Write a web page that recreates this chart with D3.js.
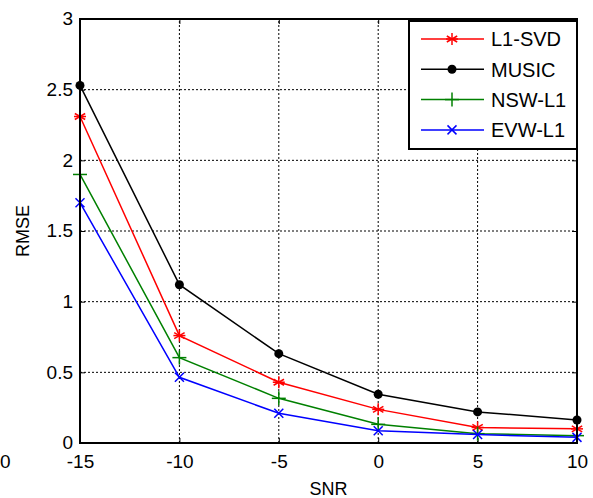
<!DOCTYPE html>
<html>
<head>
<meta charset="utf-8">
<script src="https://cdn.jsdelivr.net/npm/d3@7"></script>
<style>
  body { margin: 0; background: #fff; }
  svg { display: block; font-family: "Liberation Sans", Arial, sans-serif; }
</style>
</head>
<body>
<div id="chart"></div>
<script>
// data
const snr = [-15, -10, -5, 0, 5, 10];
const l1svd = [2.31, 0.76, 0.43, 0.238, 0.11, 0.10];
const music = [2.53, 1.12, 0.632, 0.345, 0.22, 0.163];
const nswl1 = [1.90, 0.604, 0.316, 0.132, 0.066, 0.052];
const evwl1 = [1.70, 0.465, 0.21, 0.087, 0.06, 0.04];
const xTicks = [-15, -10, -5, 0, 5, 10];
const yTicks = [0, 0.5, 1, 1.5, 2, 2.5, 3];

const seriesNames = ["L1-SVD", "MUSIC", "NSW-L1", "EVW-L1"];
const seriesColors = ["#ff0000", "#000000", "#008000", "#0000ff"];
const seriesMarks = ["star", "dot", "plus", "cross"];
const seriesVals = [l1svd, music, nswl1, evwl1];

const W = 593, H = 498;
const margin = { top: 19, right: 16, bottom: 55, left: 80 };
const w = W - margin.left - margin.right;
const h = H - margin.top - margin.bottom;

const svg = d3.select("#chart").append("svg")
    .attr("width", W).attr("height", H);

const x = d3.scaleLinear().domain([-15, 10]).range([margin.left, margin.left + w]);
const y = d3.scaleLinear().domain([0, 3]).range([margin.top + h, margin.top]);

// gridlines
svg.append("g").selectAll("line").data(xTicks.slice(1, -1)).enter().append("line")
    .attr("x1", d => x(d)).attr("x2", d => x(d))
    .attr("y1", y(0)).attr("y2", y(3))
    .attr("stroke", "#000").attr("stroke-width", 1).attr("stroke-dasharray", "2,2");
svg.append("g").selectAll("line").data(yTicks.slice(1, -1)).enter().append("line")
    .attr("x1", x(-15)).attr("x2", x(10))
    .attr("y1", d => y(d)).attr("y2", d => y(d))
    .attr("stroke", "#000").attr("stroke-width", 1).attr("stroke-dasharray", "2,2");

// axes with inward ticks
const xAxis = d3.axisBottom(x).tickValues(xTicks).tickSize(-5).tickPadding(14).tickFormat(d => String(d));
const yAxis = d3.axisLeft(y).tickValues(yTicks).tickSize(-5).tickPadding(7).tickFormat(d => String(d));

const gx = svg.append("g").attr("transform", `translate(0,${y(0)})`).call(xAxis);
const gy = svg.append("g").attr("transform", `translate(${x(-15)},0)`).call(yAxis);
[gx, gy].forEach(g => {
  g.select(".domain").remove();
  g.selectAll("text").attr("font-size", 19).attr("fill", "#000")
    .style("font-family", "'Liberation Sans', Arial, sans-serif");
  g.selectAll("line").attr("stroke", "#000");
});
gy.selectAll("text").attr("dy", "0.3em");
gx.selectAll("text").attr("dy", "0.6em");

// top / right ticks
const gxt = svg.append("g").attr("transform", `translate(0,${y(3)})`)
    .call(d3.axisTop(x).tickValues(xTicks).tickSize(-5).tickFormat(""));
const gyr = svg.append("g").attr("transform", `translate(${x(10)},0)`)
    .call(d3.axisRight(y).tickValues(yTicks).tickSize(-5).tickFormat(""));
[gxt, gyr].forEach(g => g.select(".domain").remove());

// lines
const line = d3.line().x((d, i) => x(snr[i])).y(d => y(d));

function drawMark(g, type, color) {
  if (type === "star") {
    const r = 6;
    [0, 60, 120].forEach(a => {
      const rad = a * Math.PI / 180;
      g.append("line").attr("x1", -r * Math.sin(rad)).attr("y1", -r * Math.cos(rad))
        .attr("x2", r * Math.sin(rad)).attr("y2", r * Math.cos(rad))
        .attr("stroke", color).attr("stroke-width", 1.5);
    });
    g.append("line").attr("x1", -r).attr("x2", r).attr("y1", 0).attr("y2", 0)
      .attr("stroke", color).attr("stroke-width", 1.5);
  } else if (type === "dot") {
    g.append("circle").attr("r", 4.5).attr("fill", color);
  } else if (type === "plus") {
    const r = 7;
    g.append("line").attr("x1", -r).attr("x2", r).attr("stroke", color).attr("stroke-width", 1.5);
    g.append("line").attr("y1", -r).attr("y2", r).attr("stroke", color).attr("stroke-width", 1.5);
  } else {
    const r = 4.5;
    g.append("line").attr("x1", -r).attr("y1", -r).attr("x2", r).attr("y2", r).attr("stroke", color).attr("stroke-width", 1.5);
    g.append("line").attr("x1", -r).attr("y1", r).attr("x2", r).attr("y2", -r).attr("stroke", color).attr("stroke-width", 1.5);
  }
}

seriesVals.forEach((vals, k) => {
  svg.append("path").datum(vals)
    .attr("d", line)
    .attr("fill", "none")
    .attr("stroke", seriesColors[k])
    .attr("stroke-width", 1.5);
  svg.append("g").selectAll("g").data(vals).enter().append("g")
    .attr("transform", (d, i) => `translate(${x(snr[i])},${y(d)})`)
    .each(function () { drawMark(d3.select(this), seriesMarks[k], seriesColors[k]); });
});

// box
svg.append("rect")
    .attr("x", x(-15)).attr("y", y(3))
    .attr("width", x(10) - x(-15)).attr("height", y(0) - y(3))
    .attr("fill", "none").attr("stroke", "#000").attr("stroke-width", 2);

// legend
const leg = svg.append("g").attr("transform", "translate(409,21)");
leg.append("rect").attr("width", 168).attr("height", 128)
    .attr("fill", "#fff").attr("stroke", "#000").attr("stroke-width", 2);
seriesNames.forEach((name, k) => {
  const ly = 18 + k * 30.3;
  leg.append("line").attr("x1", 12).attr("x2", 75).attr("y1", ly).attr("y2", ly)
    .attr("stroke", seriesColors[k]).attr("stroke-width", 1.5);
  const m = leg.append("g").attr("transform", `translate(43,${ly})`);
  drawMark(m, seriesMarks[k], seriesColors[k]);
  leg.append("text").attr("x", 82).attr("y", ly).attr("dy", "0.36em")
    .attr("font-size", 20).text(name);
});

// axis titles
svg.append("text").attr("x", x(-2.5)).attr("y", 495)
    .attr("text-anchor", "middle").attr("font-size", 18).text("SNR");
svg.append("text")
    .attr("transform", `translate(29,${y(1.5)}) rotate(-90)`)
    .attr("text-anchor", "middle").attr("font-size", 18).text("RMSE");

// stray label from neighbouring panel
svg.append("text").attr("x", 0).attr("y", 468).attr("font-size", 19).text("0");
</script>
</body>
</html>
